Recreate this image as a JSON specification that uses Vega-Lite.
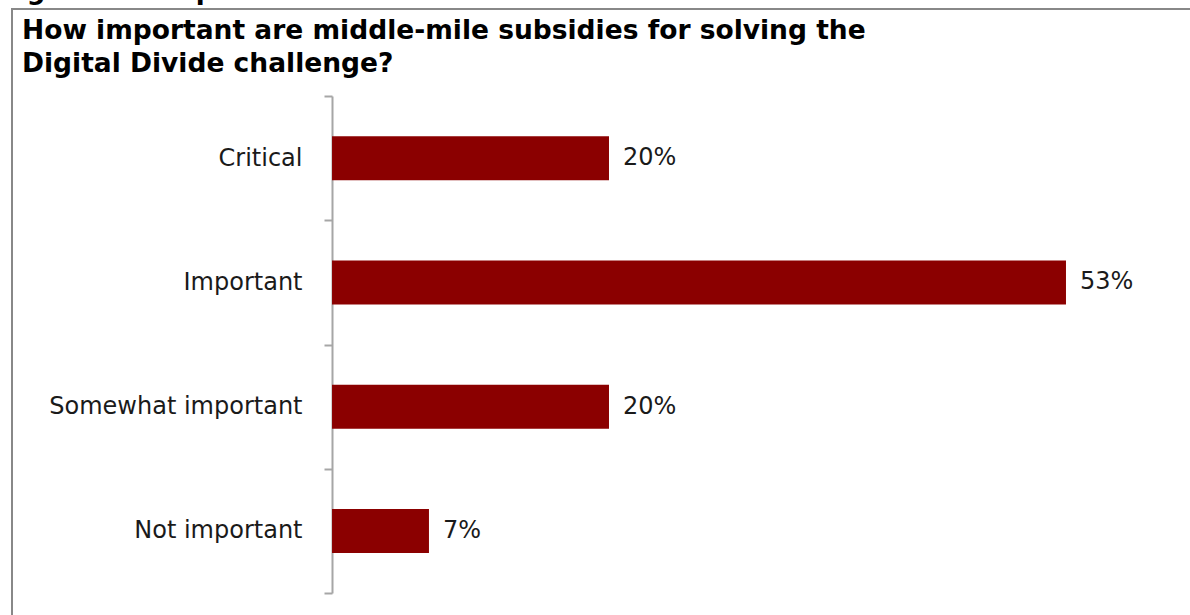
{
  "$schema": "https://vega.github.io/schema/vega-lite/v6.json",
  "padding": {"left": 0, "top": -22, "right": 0, "bottom": 0},
  "title": {"text": "Figure 11: Importance of middle-mile subsidies", "anchor": "start", "frame": "group", "dx": -12, "offset": -8, "font": "DejaVu Sans", "fontWeight": "bold", "fontSize": 26, "color": "#000000"},
  "spacing": 0,
  "vconcat": [
    {
      "width": 1180,
      "height": 620,
      "title": {"text": ["How important are middle-mile subsidies for solving the", "Digital Divide challenge?"], "anchor": "start", "frame": "group", "dx": 10, "offset": -80, "fontSize": 26.5, "fontWeight": "bold", "font": "DejaVu Sans", "color": "#000000", "lineHeight": 33},
      "data": {"values": [
        {"response": "Critical", "share": 0.20},
        {"response": "Important", "share": 0.53},
        {"response": "Somewhat important", "share": 0.20},
        {"response": "Not important", "share": 0.07}
      ]},
      "encoding": {
        "y": {"field": "response", "type": "nominal", "sort": null,
          "scale": {"range": [87, 584], "paddingInner": 0, "paddingOuter": 0},
          "axis": {"title": null, "offset": -320, "domainColor": "#a6a6a6", "domainWidth": 2, "tickColor": "#a6a6a6", "tickWidth": 2, "tickSize": 8, "tickBand": "extent", "labelFont": "DejaVu Sans", "labelFontSize": 24, "labelColor": "#1a1a1a", "labelPadding": 22, "labelLimit": 400}},
        "x": {"field": "share", "type": "quantitative", "scale": {"domain": [-0.2311, 0.621], "nice": false, "zero": false}, "axis": null}
      },
      "layer": [
        {"mark": {"type": "bar", "size": 44, "color": "#8B0000"}},
        {"mark": {"type": "text", "align": "left", "baseline": "middle", "dx": 14, "fontSize": 24, "font": "DejaVu Sans", "color": "#1a1a1a"},
          "encoding": {"text": {"field": "share", "type": "quantitative", "format": ".0%"}}}
      ]
    }
  ],
  "config": {"view": {"stroke": "#888888", "strokeWidth": 2}, "font": "DejaVu Sans"}
}
